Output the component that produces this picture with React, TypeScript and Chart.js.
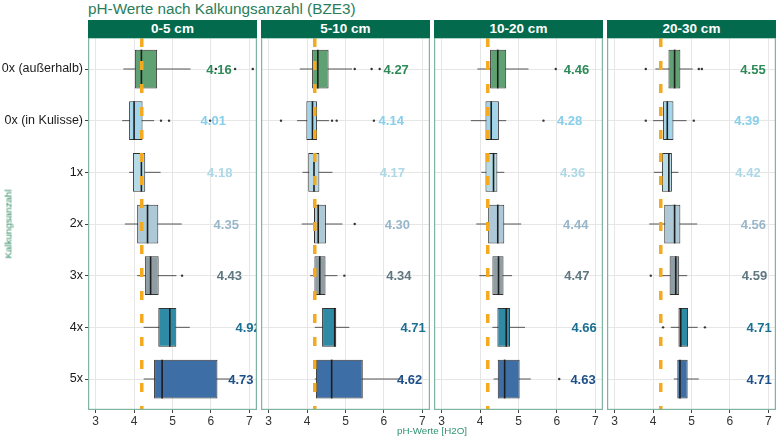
import { useEffect, useRef } from 'react';
import { Chart, registerables } from 'chart.js';

Chart.register(...registerables);

// ---------- data ----------
const categories = ['0x (außerhalb)', '0x (in Kulisse)', '1x', '2x', '3x', '4x', '5x'];
const depths = ['0-5 cm', '5-10 cm', '10-20 cm', '20-30 cm'];
const xTicks = [3, 4, 5, 6, 7];
const referencePH = 4.2;

// 0-5 cm
const lo05 = [3.72, 3.69, 3.87, 3.76, 4.08, 4.25, 4.25];
const q1_05 = [4.02, 3.87, 3.97, 4.08, 4.28, 4.63, 4.52];
const med05 = [4.19, 4.0, 4.19, 4.35, 4.43, 4.93, 4.73];
const q3_05 = [4.6, 4.22, 4.29, 4.63, 4.64, 5.1, 6.17];
const hi05 = [5.47, 4.52, 4.69, 5.24, 5.1, 5.45, 6.55];
const mean05 = [4.16, 4.01, 4.18, 4.35, 4.43, 4.92, 4.73];
const out05 = [[6.13, 6.63, 7.09], [4.7, 4.91, 5.98], [], [], [5.25], [], []];

// 5-10 cm
const lo510 = [3.81, 3.74, 3.88, 3.86, 4.08, 4.2, 4.2];
const q1_510 = [4.13, 3.98, 4.03, 4.18, 4.19, 4.39, 4.23];
const med510 = [4.28, 4.14, 4.18, 4.29, 4.33, 4.72, 4.64];
const q3_510 = [4.56, 4.26, 4.32, 4.49, 4.48, 4.76, 5.45];
const hi510 = [5.17, 4.57, 4.66, 4.92, 4.79, 5.1, 6.45];
const mean510 = [4.27, 4.14, 4.17, 4.3, 4.34, 4.71, 4.62];
const out510 = [[5.24, 5.68, 5.89], [3.32, 4.65, 4.77, 5.74], [], [5.24], [4.97], [], []];

// 10-20 cm
const lo1020 = [3.93, 3.76, 4.03, 3.9, 3.98, 4.32, 4.35];
const q1_1020 = [4.26, 4.14, 4.14, 4.21, 4.32, 4.45, 4.46];
const med1020 = [4.46, 4.29, 4.35, 4.46, 4.48, 4.68, 4.64];
const q3_1020 = [4.68, 4.49, 4.45, 4.63, 4.61, 4.78, 5.03];
const hi1020 = [5.26, 4.68, 4.63, 5.07, 4.83, 5.17, 5.32];
const mean1020 = [4.46, 4.28, 4.36, 4.44, 4.47, 4.66, 4.63];
const out1020 = [[5.97], [5.65], [], [], [], [], [6.06]];

// 20-30 cm
const lo2030 = [4.06, 4.0, 4.02, 3.9, 4.21, 4.46, 4.54];
const q1_2030 = [4.4, 4.26, 4.23, 4.29, 4.43, 4.66, 4.63];
const med2030 = [4.56, 4.37, 4.41, 4.56, 4.59, 4.72, 4.7];
const q3_2030 = [4.71, 4.53, 4.49, 4.71, 4.68, 4.91, 4.9];
const hi2030 = [5.03, 4.87, 4.66, 5.15, 4.89, 5.16, 5.19];
const mean2030 = [4.55, 4.39, 4.42, 4.56, 4.59, 4.71, 4.71];
const out2030 = [[3.81, 5.19, 5.27], [3.81, 5.06], [], [], [3.94], [4.26, 5.35], []];

// ---------- styles ----------
const boxFills = ['#5fa172', '#a2d4ea', '#b6dbe7', '#adc8d6', '#8e9ea4', '#2f8aa6', '#3d6ea5'];
const labelColors = ['#2e8b57', '#87ceeb', '#add8e6', '#98b6ca', '#5f7780', '#1b6f91', '#1d4f88'];
const FONT = '"Liberation Sans", Arial, Helvetica, sans-serif';
const GREEN = '#2a7d5a';
const STRIP = '#046a4d';
const FRAME = '#7db5a0';
const GRID = '#e6e6e6';

const panels = [
  { lo: lo05, q1: q1_05, med: med05, q3: q3_05, hi: hi05, mean: mean05, out: out05 },
  { lo: lo510, q1: q1_510, med: med510, q3: q3_510, hi: hi510, mean: mean510, out: out510 },
  { lo: lo1020, q1: q1_1020, med: med1020, q3: q3_1020, hi: hi1020, mean: mean1020, out: out1020 },
  { lo: lo2030, q1: q1_2030, med: med2030, q3: q3_2030, hi: hi2030, mean: mean2030, out: out2030 },
];

const PANEL_LEFTS = [88, 261, 434, 607];
const PANEL_W = 169;
const PLOT_TOP = 38;
const CANVAS_H = 401;
const Y_AXIS_W = 88;

function Panel({ index }: { index: number }) {
  const ref = useRef<HTMLCanvasElement>(null);
  const showY = index === 0;
  const canvasLeft = showY ? 0 : PANEL_LEFTS[index];
  const canvasW = showY ? PANEL_LEFTS[0] + PANEL_W : PANEL_W;

  useEffect(() => {
    const s = panels[index];
    const boxParts = {
      id: 'boxParts',
      beforeDatasetsDraw(chart: any) {
        const { ctx, chartArea, scales } = chart;
        ctx.save();
        ctx.beginPath();
        ctx.rect(chartArea.left, chartArea.top, chartArea.width, chartArea.height);
        ctx.clip();
        ctx.strokeStyle = '#555555';
        ctx.lineWidth = 1;
        categories.forEach((_, i) => {
          const y = scales.y.getPixelForValue(i);
          ctx.beginPath();
          ctx.moveTo(scales.x.getPixelForValue(s.lo[i]), y);
          ctx.lineTo(scales.x.getPixelForValue(s.hi[i]), y);
          ctx.stroke();
        });
        ctx.restore();
      },
      afterDatasetDraw(chart: any, args: any) {
        if (args.index !== 0) return;
        const { ctx, scales } = chart;
        const half = Math.abs(scales.y.getPixelForValue(0.375) - scales.y.getPixelForValue(0));
        ctx.save();
        ctx.strokeStyle = '#1e1e1e';
        ctx.lineWidth = 1.6;
        categories.forEach((_, i) => {
          const x = scales.x.getPixelForValue(s.med[i]);
          const y = scales.y.getPixelForValue(i);
          ctx.beginPath();
          ctx.moveTo(x, y - half);
          ctx.lineTo(x, y + half);
          ctx.stroke();
        });
        ctx.restore();
      },
      afterDatasetsDraw(chart: any) {
        const { ctx, chartArea, scales } = chart;
        ctx.save();
        ctx.beginPath();
        ctx.rect(chartArea.left, chartArea.top, chartArea.width, chartArea.height);
        ctx.clip();
        ctx.font = `bold 13px ${FONT}`;
        ctx.textAlign = 'center';
        ctx.textBaseline = 'middle';
        categories.forEach((_, i) => {
          ctx.fillStyle = labelColors[i];
          ctx.fillText(
            s.mean[i].toFixed(2),
            scales.x.getPixelForValue(s.mean[i] + 2.05),
            scales.y.getPixelForValue(i) + 1
          );
        });
        ctx.restore();
      },
      afterDraw(chart: any) {
        const { ctx, chartArea } = chart;
        ctx.save();
        ctx.strokeStyle = FRAME;
        ctx.lineWidth = 1.2;
        ctx.strokeRect(chartArea.left + 0.6, chartArea.top, chartArea.width - 1.2, chartArea.height - 0.6);
        ctx.restore();
      },
    };

    const outlierPoints: { x: number; y: number }[] = [];
    s.out.forEach((vals, i) => vals.forEach((v) => outlierPoints.push({ x: v, y: i })));

    const chart = new Chart(ref.current as HTMLCanvasElement, {
      type: 'bar',
      data: {
        datasets: [
          {
            type: 'bar',
            data: categories.map((_, i) => ({ x: [s.q1[i], s.q3[i]], y: i })) as any,
            backgroundColor: boxFills,
            borderColor: '#333333',
            borderWidth: 1,
            borderSkipped: false,
            barPercentage: 0.75,
            categoryPercentage: 1,
            order: 3,
          } as any,
          {
            type: 'scatter',
            data: outlierPoints,
            pointRadius: 1.2,
            pointBackgroundColor: '#333',
            pointBorderWidth: 0,
            order: 2,
          } as any,
          {
            type: 'line',
            data: [
              { x: referencePH, y: -0.6 },
              { x: referencePH, y: 6.6 },
            ],
            borderColor: '#f5a91f',
            borderWidth: 3.5,
            borderDash: [9, 14],
            pointRadius: 0,
            fill: false,
            order: 1,
          } as any,
        ],
      },
      options: {
        indexAxis: 'y',
        responsive: false,
        maintainAspectRatio: false,
        animation: false,
        events: [],
        layout: { padding: 0, autoPadding: false } as any,
        plugins: { legend: { display: false }, tooltip: { enabled: false }, title: { display: false } },
        scales: {
          x: {
            type: 'linear',
            min: 2.8,
            max: 7.2,
            offset: false,
            afterBuildTicks: (scale: any) => {
              scale.ticks = xTicks.map((v) => ({ value: v }));
            },
            afterFit: (scale: any) => {
              scale.height = CANVAS_H - 372;
              scale.paddingLeft = 0;
              scale.paddingRight = 0;
            },
            ticks: { font: { family: FONT, size: 12 }, color: '#333', padding: 1, maxRotation: 0 },
            grid: { color: GRID, tickLength: 3, tickColor: '#444', lineWidth: 1, offset: false },
            border: { display: false },
          },
          y: {
            type: 'linear',
            min: -0.6,
            max: 6.6,
            reverse: true,
            offset: false,
            afterBuildTicks: (scale: any) => {
              scale.ticks = categories.map((_, i) => ({ value: i }));
            },
            afterFit: (scale: any) => {
              scale.width = showY ? Y_AXIS_W : 0;
              scale.paddingTop = 0;
              scale.paddingBottom = 0;
            },
            ticks: {
              display: showY,
              font: { family: FONT, size: 12.5 },
              color: '#1a1a1a',
              padding: 2,
              callback: (v: any) => categories[v] ?? '',
            },
            grid: { color: GRID, tickLength: 3, tickColor: '#444', drawTicks: showY, lineWidth: 1, offset: false },
            border: { display: false },
          },
        },
      },
      plugins: [boxParts],
    } as any);
    return () => chart.destroy();
  }, []);

  return (
    <canvas
      ref={ref}
      width={canvasW}
      height={CANVAS_H}
      style={{ position: 'absolute', left: canvasLeft, top: PLOT_TOP, width: canvasW, height: CANVAS_H }}
    />
  );
}

export default function App() {
  return (
    <div
      style={{
        position: 'fixed',
        left: 0,
        top: 0,
        width: 780,
        height: 439,
        background: '#fff',
        fontFamily: FONT,
        overflow: 'hidden',
      }}
    >
      <div
        style={{
          position: 'absolute',
          left: 88,
          top: -1,
          fontSize: 15.3,
          lineHeight: '19px',
          color: GREEN,
          whiteSpace: 'nowrap',
        }}
      >
        pH-Werte nach Kalkungsanzahl (BZE3)
      </div>
      {depths.map((d, i) => (
        <div
          key={d}
          style={{
            position: 'absolute',
            left: PANEL_LEFTS[i],
            top: 20,
            width: PANEL_W,
            height: 18,
            background: STRIP,
            color: '#fff',
            fontWeight: 'bold',
            fontSize: 13.5,
            lineHeight: '18px',
            textAlign: 'center',
          }}
        >
          {d}
        </div>
      ))}
      {depths.map((d, i) => (
        <Panel key={d} index={i} />
      ))}
      <div
        style={{
          position: 'absolute',
          left: 8,
          top: 224,
          fontSize: 9.8,
          color: '#2f8a62',
          whiteSpace: 'nowrap',
          transform: 'translate(-50%, -50%) rotate(-90deg)',
        }}
      >
        Kalkungsanzahl
      </div>
      <div
        style={{
          position: 'absolute',
          left: 432,
          top: 430,
          fontSize: 9.8,
          color: '#2f9272',
          whiteSpace: 'nowrap',
          transform: 'translate(-50%, -50%)',
        }}
      >
        pH-Werte [H2O]
      </div>
    </div>
  );
}
